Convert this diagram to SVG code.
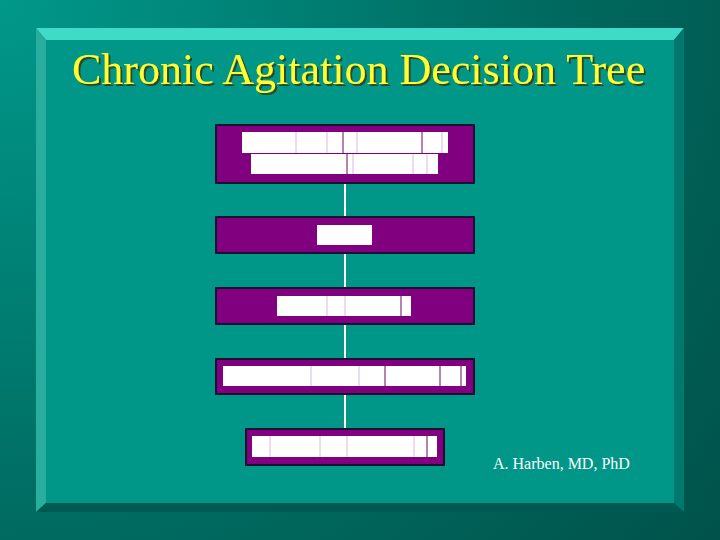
<svg xmlns="http://www.w3.org/2000/svg" width="720" height="540" viewBox="0 0 720 540">
<defs>
<radialGradient id="bg" cx="0" cy="0" r="900" gradientUnits="userSpaceOnUse">
<stop offset="0" stop-color="#00988a"/>
<stop offset="0.6" stop-color="#006a60"/>
<stop offset="1" stop-color="#00524a"/>
</radialGradient>
<filter id="shadow" x="-5%" y="-20%" width="110%" height="140%">
<feDropShadow dx="2" dy="2" stdDeviation="0.4" flood-color="#3a3a10" flood-opacity="0.85"/>
</filter>
<style>
.box{fill:#800080;stroke:#1a1030;stroke-width:2}
.bar{fill:#ffffff}
.div{stroke:#d8b8d8;stroke-width:1}
.divd{stroke:#9a5a9a;stroke-width:1.5}
.conn{stroke:#ffffff;stroke-width:2}
.title{font-family:"Liberation Serif","Times New Roman",serif;font-size:44px}
.author{font-family:"Liberation Serif","Times New Roman",serif;font-size:16px;fill:#ffffff}
</style>
</defs>
<rect x="0" y="0" width="720" height="540" fill="url(#bg)"/>
<!-- bevel frame -->
<polygon points="36,28 684,28 674,40 46,40" fill="#40dac9"/>
<polygon points="36,28 46,40 46,503 36,512" fill="#28ad9f"/>
<polygon points="684,28 684,512 674,503 674,40" fill="#00786d"/>
<polygon points="36,512 46,503 674,503 684,512" fill="#005a51"/>
<rect x="46" y="40" width="628" height="463" fill="#009688"/>
<!-- title -->
<text class="title" x="72" y="84" fill="#ffff33" filter="url(#shadow)">Chronic Agitation Decision Tree</text>
<!-- connectors -->
<g id="connectors">
<line class="conn" x1="345" y1="183" x2="345" y2="217"/>
<line class="conn" x1="345" y1="253" x2="345" y2="288"/>
<line class="conn" x1="345" y1="324" x2="345" y2="359"/>
<line class="conn" x1="345" y1="394" x2="345" y2="429"/>
</g>
<g id="node1">
<rect class="box" x="216" y="125" width="258" height="58"/>
<rect class="bar" x="242" y="132" width="206" height="21"/>
<rect class="bar" x="251" y="154" width="187" height="20"/>
<line class="div" x1="296" y1="132" x2="296" y2="153"/>
<line class="div" x1="327" y1="132" x2="327" y2="153"/>
<line class="divd" x1="343" y1="132" x2="343" y2="153"/>
<line class="div" x1="357" y1="132" x2="357" y2="153"/>
<line class="divd" x1="422" y1="132" x2="422" y2="153"/>
<line class="div" x1="442" y1="132" x2="442" y2="153"/>
<line class="divd" x1="347" y1="154" x2="347" y2="174"/>
<line class="div" x1="353" y1="154" x2="353" y2="174"/>
<line class="div" x1="413" y1="154" x2="413" y2="174"/>
<line class="div" x1="427" y1="154" x2="427" y2="174"/>
</g>
<g id="node2">
<rect class="box" x="216" y="217" width="258" height="36"/>
<rect class="bar" x="317" y="225" width="55" height="20"/>
</g>
<g id="node3">
<rect class="box" x="216" y="288" width="258" height="36"/>
<rect class="bar" x="277" y="296" width="134" height="20"/>
<line class="div" x1="327" y1="296" x2="327" y2="316"/>
<line class="div" x1="345" y1="296" x2="345" y2="316"/>
<line class="divd" x1="401" y1="296" x2="401" y2="316"/>
</g>
<g id="node4">
<rect class="box" x="216" y="359" width="258" height="35"/>
<rect class="bar" x="223" y="366" width="243" height="20"/>
<line class="div" x1="311" y1="366" x2="311" y2="386"/>
<line class="div" x1="359" y1="366" x2="359" y2="386"/>
<line class="divd" x1="385" y1="366" x2="385" y2="386"/>
<line class="divd" x1="440" y1="366" x2="440" y2="386"/>
<line class="divd" x1="461" y1="366" x2="461" y2="386"/>
</g>
<g id="node5">
<rect class="box" x="246" y="429" width="198" height="36"/>
<rect class="bar" x="252" y="436" width="185" height="21"/>
<line class="div" x1="270" y1="436" x2="270" y2="457"/>
<line class="div" x1="320" y1="436" x2="320" y2="457"/>
<line class="div" x1="347" y1="436" x2="347" y2="457"/>
<line class="div" x1="414" y1="436" x2="414" y2="457"/>
<line class="divd" x1="427" y1="436" x2="427" y2="457"/>
</g>
<text class="author" x="493" y="469">A. Harben, MD, PhD</text>
</svg>
